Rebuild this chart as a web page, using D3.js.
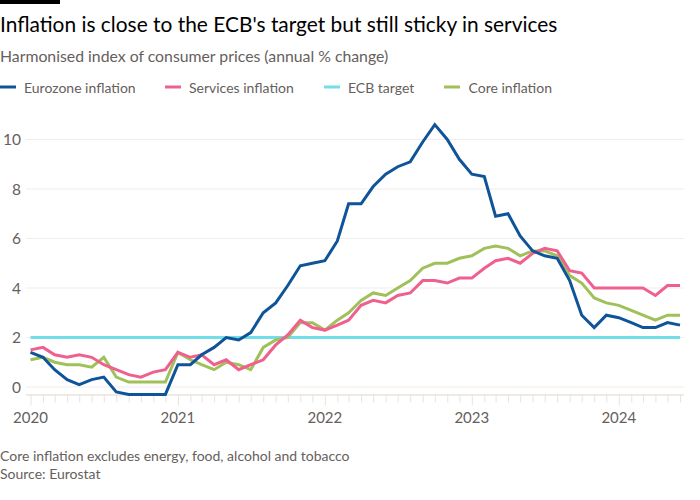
<!DOCTYPE html>
<html>
<head>
<meta charset="utf-8">
<script src="https://cdn.jsdelivr.net/npm/d3@7"></script>
<style>
  html, body { margin: 0; padding: 0; background: #fff; }
  svg { display: block; font-family: "Lato", sans-serif; }
</style>
</head>
<body>
<svg width="700" height="500"></svg>
<script>
const eurozone = [
  1.4, 1.2, 0.7, 0.3, 0.1, 0.3, 0.4, -0.2, -0.3, -0.3, -0.3, -0.3,
  0.9, 0.9, 1.3, 1.6, 2.0, 1.9, 2.2, 3.0, 3.4, 4.1, 4.9, 5.0,
  5.1, 5.9, 7.4, 7.4, 8.1, 8.6, 8.9, 9.1, 9.9, 10.6, 10.0, 9.2,
  8.6, 8.5, 6.9, 7.0, 6.1, 5.5, 5.3, 5.2, 4.3, 2.9, 2.4, 2.9,
  2.8, 2.6, 2.4, 2.4, 2.6, 2.5
];
const services = [
  1.5, 1.6, 1.3, 1.2, 1.3, 1.2, 0.9, 0.7, 0.5, 0.4, 0.6, 0.7,
  1.4, 1.2, 1.3, 0.9, 1.1, 0.7, 0.9, 1.1, 1.7, 2.1, 2.7, 2.4,
  2.3, 2.5, 2.7, 3.3, 3.5, 3.4, 3.7, 3.8, 4.3, 4.3, 4.2, 4.4,
  4.4, 4.8, 5.1, 5.2, 5.0, 5.4, 5.6, 5.5, 4.7, 4.6, 4.0, 4.0,
  4.0, 4.0, 4.0, 3.7, 4.1, 4.1
];
const target = new Array(54).fill(2);
const core = [
  1.1, 1.2, 1.0, 0.9, 0.9, 0.8, 1.2, 0.4, 0.2, 0.2, 0.2, 0.2,
  1.4, 1.1, 0.9, 0.7, 1.0, 0.9, 0.7, 1.6, 1.9, 2.0, 2.6, 2.6,
  2.3, 2.7, 3.0, 3.5, 3.8, 3.7, 4.0, 4.3, 4.8, 5.0, 5.0, 5.2,
  5.3, 5.6, 5.7, 5.6, 5.3, 5.5, 5.5, 5.3, 4.5, 4.2, 3.6, 3.4,
  3.3, 3.1, 2.9, 2.7, 2.9, 2.9
];
const yTicks = [0, 2, 4, 6, 8, 10];
const yearTicks = [2020, 2021, 2022, 2023, 2024];

const seriesNames = ["Eurozone inflation", "Services inflation", "ECB target", "Core inflation"];
const seriesColors = ["#0f5499", "#f0608f", "#72dfe8", "#a0c15a"];
const seriesValues = [eurozone, services, target, core];
const drawOrder = [2, 3, 1, 0];
const legendX = [0, 165, 324, 444];

const months = d3.range(eurozone.length).map((i) => new Date(2020, i, 1));

const svg = d3.select("svg");
const x = d3.scaleTime().domain([new Date(2020, 0, 1), new Date(2024, 5, 1)]).range([30.5, 680]);
const y = d3.scaleLinear().domain([0, 10]).range([387, 139.5]);
const axisY = y(-0.3);
const textColor = "#66605c";

svg.append("rect").attr("width", 60).attr("height", 4).attr("fill", "#000");

svg.append("text").attr("x", 0).attr("y", 32).attr("font-size", 20.9).attr("fill", "#000")
  .text("Inflation is close to the ECB's target but still sticky in services");
svg.append("text").attr("x", 0).attr("y", 62).attr("font-size", 15.8).attr("fill", textColor)
  .text("Harmonised index of consumer prices (annual % change)");

// legend
const legend = svg.selectAll(".legend").data(seriesNames).enter().append("g")
  .attr("class", "legend")
  .attr("transform", (d, i) => `translate(${legendX[i]},87)`);
legend.append("line").attr("x1", 0).attr("x2", 16)
  .attr("stroke", (d, i) => seriesColors[i]).attr("stroke-width", 3);
legend.append("text").attr("x", (d, i) => (i === 3 ? 24.5 : 24)).attr("y", 6).attr("font-size", 14).attr("fill", textColor)
  .text((d) => d);

// gridlines
svg.append("g").selectAll("line").data(yTicks).enter().append("line")
  .attr("x1", 26).attr("x2", 684)
  .attr("y1", (d) => y(d)).attr("y2", (d) => y(d))
  .attr("stroke", "#f2ede9").attr("stroke-width", 1.2);

svg.append("g").selectAll("text").data(yTicks).enter().append("text")
  .attr("x", 21).attr("y", (d) => y(d) + 5.5).attr("text-anchor", "end")
  .attr("font-size", 15.5).attr("fill", textColor).text((d) => d);

// x axis: monthly ticks, longer at each year
const xAxis = d3.axisBottom(x)
  .tickValues(months)
  .tickSize(8)
  .tickFormat("");
const xg = svg.append("g").attr("transform", `translate(0,${axisY})`).call(xAxis);
xg.select(".domain").attr("d", "M26,0.5H684").attr("stroke", "#e9e3de").attr("stroke-width", 1.5);
xg.selectAll(".tick line").attr("stroke", "#e9e3de")
  .attr("y2", (d) => (d.getMonth() === 0 ? 11 : 8));

svg.append("g").selectAll("text").data(yearTicks).enter().append("text")
  .attr("x", (d) => x(new Date(d, 0, 1))).attr("y", 423).attr("text-anchor", "middle")
  .attr("font-size", 15).attr("fill", textColor).text((d) => d);

// series
const line = d3.line().x((d, i) => x(months[i])).y((d) => y(d));
svg.append("g").selectAll("path").data(drawOrder).enter().append("path")
  .attr("d", (k) => line(seriesValues[k]))
  .attr("fill", "none")
  .attr("stroke", (k) => seriesColors[k])
  .attr("stroke-width", 3)
  .attr("stroke-linejoin", "miter");

svg.append("text").attr("x", 0).attr("y", 461).attr("font-size", 14).attr("fill", textColor)
  .text("Core inflation excludes energy, food, alcohol and tobacco");
svg.append("text").attr("x", 0).attr("y", 479).attr("font-size", 14).attr("fill", textColor)
  .text("Source: Eurostat");
</script>
</body>
</html>
